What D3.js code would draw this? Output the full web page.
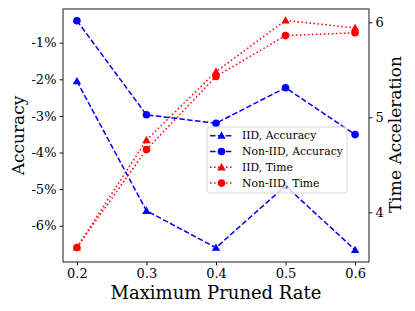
<!DOCTYPE html>
<html><head><meta charset="utf-8">
<script src="https://cdn.jsdelivr.net/npm/d3@7"></script>
<style>body{margin:0;background:#fff}svg{display:block}text{font-family:"DejaVu Serif",serif}</style>
</head><body><svg id="c" width="415" height="311"></svg>
<script>
const rates = [0.2, 0.3, 0.4, 0.5, 0.6];
const iidAcc = [-2.05, -5.59, -6.60, -4.91, -6.66];
const nonIidAcc = [-0.40, -2.97, -3.20, -2.23, -3.51];
const iidTime = [3.63, 4.76, 5.48, 6.02, 5.94];
const nonIidTime = [3.63, 4.66, 5.43, 5.86, 5.89];
const xTicks = [0.2, 0.3, 0.4, 0.5, 0.6];
const accTicks = [-6, -5, -4, -3, -2, -1];
const timeTicks = [4, 5, 6];
const seriesNames = ["IID, Accuracy", "Non-IID, Accuracy", "IID, Time", "Non-IID, Time"];

const L = 63, R = 369, T = 9, B = 262;
const svg = d3.select("#c");
const x = d3.scaleLinear().domain([0.18, 0.62]).range([L, R]);
const yL = d3.scaleLinear().domain([-6.99, -0.08]).range([B, T]);
const yR = d3.scaleLinear().domain([3.477, 6.14]).range([B, T]);

const series = [
  {name: seriesNames[0], vals: iidAcc, y: yL, color: "#0000ff", dash: "5.5,2.4", marker: "tri"},
  {name: seriesNames[1], vals: nonIidAcc, y: yL, color: "#0000ff", dash: "5.5,2.4", marker: "circ"},
  {name: seriesNames[2], vals: iidTime, y: yR, color: "#ff0000", dash: "1.5,2.5", marker: "tri"},
  {name: seriesNames[3], vals: nonIidTime, y: yR, color: "#ff0000", dash: "1.5,2.5", marker: "circ"}
];

function drawMarker(g, type, cx, cy, color) {
  if (type === "circ") {
    g.append("circle").attr("cx", cx).attr("cy", cy).attr("r", 3.8).attr("fill", color);
  } else {
    const s = 4.2;
    g.append("path").attr("d", `M${cx},${cy - s}L${cx + s},${cy + s * 0.75}L${cx - s},${cy + s * 0.75}Z`).attr("fill", color);
  }
}

const plot = svg.append("g");
series.forEach(s => {
  const line = d3.line().x((d, i) => x(rates[i])).y(d => s.y(d));
  plot.append("path").attr("d", line(s.vals)).attr("fill", "none").attr("stroke", s.color)
    .attr("stroke-width", 1.5).attr("stroke-dasharray", s.dash);
  s.vals.forEach((v, i) => drawMarker(plot, s.marker, x(rates[i]), s.y(v), s.color));
});

// frame
svg.append("rect").attr("x", L).attr("y", T).attr("width", R - L).attr("height", B - T)
  .attr("fill", "none").attr("stroke", "#000").attr("stroke-width", 0.9);

const fmt = d => d + "%";
const ax = svg.append("g").attr("transform", `translate(0,${B})`)
  .call(d3.axisBottom(x).tickValues(xTicks).tickFormat(d3.format(".1f")).tickSizeOuter(0).tickSize(3.5).tickPadding(3.5));
const ayl = svg.append("g").attr("transform", `translate(${L},0)`)
  .call(d3.axisLeft(yL).tickValues(accTicks).tickFormat(fmt).tickSizeOuter(0).tickSize(3.5).tickPadding(3));
const ayr = svg.append("g").attr("transform", `translate(${R},0)`)
  .call(d3.axisRight(yR).tickValues(timeTicks).tickFormat(d3.format("d")).tickSizeOuter(0).tickSize(3.5).tickPadding(3));
[ax, ayl, ayr].forEach(a => {
  a.select(".domain").remove();
  a.selectAll("text").attr("font-family", "DejaVu Serif").attr("font-size", 13).attr("fill", "#000");
  a.selectAll("line").attr("stroke", "#000").attr("stroke-width", 0.9);
});

svg.append("text").attr("x", (L + R) / 2).attr("y", 299).attr("text-anchor", "middle")
  .attr("font-size", 18).text("Maximum Pruned Rate");
svg.append("text").attr("transform", `translate(23.5,${(T + B) / 2}) rotate(-90)`).attr("text-anchor", "middle")
  .attr("font-size", 17).text("Accuracy");
svg.append("text").attr("transform", `translate(401,134.5) rotate(-90)`).attr("text-anchor", "middle")
  .attr("font-size", 17).text("Time Acceleration");

// legend
const lg = svg.append("g");
lg.append("rect").attr("x", 207).attr("y", 127).attr("width", 140).attr("height", 66).attr("rx", 2.5)
  .attr("fill", "#fff").attr("fill-opacity", 0.8).attr("stroke", "#ccc").attr("stroke-width", 0.8);
const ly = [135.7, 151.5, 167.3, 183.1];
series.forEach((s, i) => {
  lg.append("line").attr("x1", 210).attr("x2", 233).attr("y1", ly[i]).attr("y2", ly[i])
    .attr("stroke", s.color).attr("stroke-width", 1.5).attr("stroke-dasharray", s.dash);
  drawMarker(lg, s.marker, 221.5, ly[i], s.color);
  lg.append("text").attr("x", 242).attr("y", ly[i]).attr("dy", "0.35em").attr("font-size", 10.8).text(s.name);
});
</script></body></html>
